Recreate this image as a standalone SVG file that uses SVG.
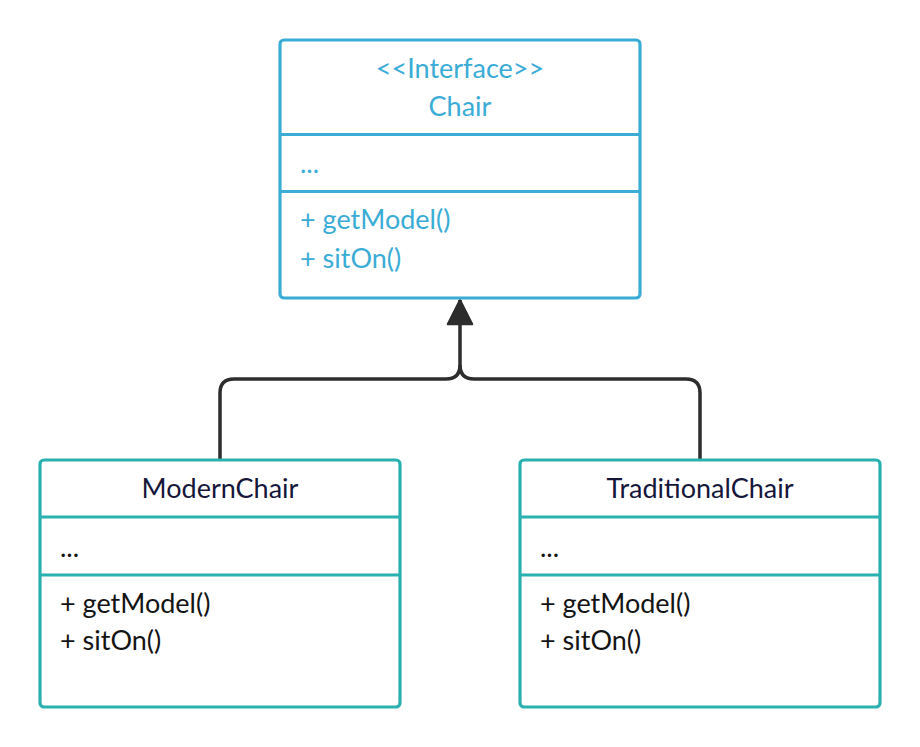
<svg xmlns="http://www.w3.org/2000/svg" width="920" height="747" viewBox="0 0 920 747">
<style>
text{font-family:Lato,"Open Sans","Liberation Sans",sans-serif;font-size:27px}
.iface rect,.iface line{stroke:#3aacd6;stroke-width:3.2;fill:#fff}
.iface text{fill:#3aacd6}
.cls rect,.cls line{stroke:#2ab0ae;stroke-width:3.2;fill:#fff}
.cls text{fill:#141414}
.cls text.title{fill:#15163a}
.mid{text-anchor:middle}
.conn{fill:none;stroke:#2d2d2d;stroke-width:3.5;stroke-linejoin:round}
</style>
<defs>
<marker id="tri" markerWidth="8" markerHeight="8" refX="7.4" refY="4" orient="auto" markerUnits="strokeWidth" viewBox="0 0 8 8">
<path d="M0.5,0.5 L7.4,4 L0.5,7.5 Z" fill="#2d2d2d" stroke="#2d2d2d" stroke-width="0.6" stroke-linejoin="round"/>
</marker>
</defs>
<rect width="920" height="747" fill="#fff"/>
<g id="connectors">
<path class="conn" d="M220,460 V393 Q220,379 234,379 H446 Q460,379 460,365 V300" marker-end="url(#tri)"/>
<path class="conn" d="M700,460 V393 Q700,379 686,379 H474 Q460,379 460,365"/>
</g>
<g id="Chair" class="iface">
<rect x="280" y="40" width="360" height="258" rx="4"/>
<line x1="280" y1="134.5" x2="640" y2="134.5"/>
<line x1="280" y1="191.5" x2="640" y2="191.5"/>
<text class="mid" x="460" y="78">&lt;&lt;Interface&gt;&gt;</text>
<text class="mid" x="460" y="116">Chair</text>
<text x="300" y="173">...</text>
<text x="300" y="229">+ getModel()</text>
<text x="300" y="268">+ sitOn()</text>
</g>
<g id="ModernChair" class="cls">
<rect x="40" y="460" width="360" height="247" rx="4"/>
<line x1="40" y1="517" x2="400" y2="517"/>
<line x1="40" y1="575" x2="400" y2="575"/>
<text class="mid title" x="220" y="498">ModernChair</text>
<text x="60" y="557">...</text>
<text x="60" y="613">+ getModel()</text>
<text x="60" y="650">+ sitOn()</text>
</g>
<g id="TraditionalChair" class="cls">
<rect x="520" y="460" width="360" height="247" rx="4"/>
<line x1="520" y1="517" x2="880" y2="517"/>
<line x1="520" y1="575" x2="880" y2="575"/>
<text class="mid title" x="700" y="498">TraditionalChair</text>
<text x="540" y="557">...</text>
<text x="540" y="613">+ getModel()</text>
<text x="540" y="650">+ sitOn()</text>
</g>
</svg>
